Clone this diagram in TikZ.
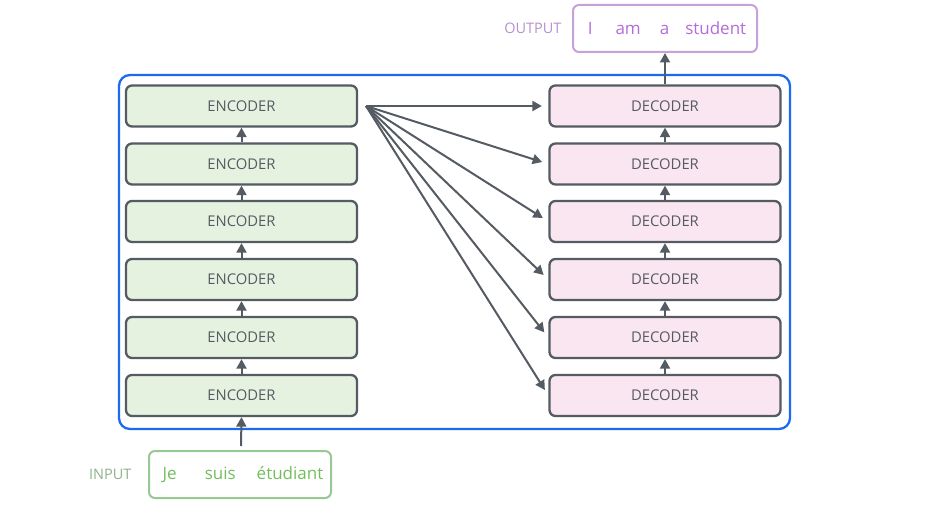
\documentclass[tikz,border=0pt]{standalone}
\usepackage{fontspec}
\setmainfont{Open Sans}
\usetikzlibrary{arrows.meta}
\definecolor{edge}{HTML}{555B62}
\definecolor{encfill}{HTML}{E6F2E0}
\definecolor{decfill}{HTML}{FAE6F0}
\definecolor{frame}{HTML}{1A6AF2}
\definecolor{outline}{HTML}{C6A2D6}
\definecolor{outtext}{HTML}{B46CD6}
\definecolor{outlabel}{HTML}{B792CC}
\definecolor{inline}{HTML}{97C993}
\definecolor{intext}{HTML}{72BE5C}
\definecolor{inlabel}{HTML}{8DB38A}
\begin{document}
\begin{tikzpicture}[x=1pt,y=-1pt,
  box/.style={draw=edge,line width=2.3pt,rounded corners=6pt,minimum width=231pt,minimum height=41pt,inner sep=0pt,font=\fontsize{14.8}{17}\selectfont,text=edge},
  enc/.style={box,fill=encfill},
  dec/.style={box,fill=decfill},
  conn/.style={draw=edge,line width=2pt,-{Triangle[length=9.5pt,width=10pt]}},
  wordbox/.style={line width=2pt,rounded corners=6pt,inner sep=0pt,font=\fontsize{17}{20}\selectfont},
  tag/.style={font=\fontsize{14.5}{17}\selectfont,anchor=east}
]
\useasboundingbox (0,0) rectangle (931,508);
\draw[frame,line width=2.3pt,rounded corners=11pt] (119,75) rectangle (790,429);
\foreach \i/\y in {1/395.5,2/337.5,3/279.5,4/221.5,5/164,6/106}{
  \node[enc] (e\i) at (241.5,\y) {ENCODER};
  \node[dec] (d\i) at (665,\y) {DECODER};
}
\foreach \i/\j in {1/2,2/3,3/4,4/5,5/6}{
  \draw[conn] (e\i.north) -- (e\j.south);
  \draw[conn] (d\i.north) -- (d\j.south);
}
\coordinate (fan) at (366,106);
\foreach \i in {1,...,6}{
  \draw[conn,shorten >=6.5pt] (fan) -- (d\i.west);
}
\node[wordbox,draw=outline,minimum width=184pt,minimum height=47pt,text=outtext] (out) at (665,28.5)
  {\hspace*{4pt}I\hspace{23pt}am\hspace{19pt}a\hspace{16pt}student};
\node[tag,text=outlabel] (outl) at (565,28) {OUTPUT};
\draw[conn] (d6.north) -- (out.south);
\node[wordbox,draw=inline,minimum width=182pt,minimum height=47pt,text=intext] (in) at (240,474.5)
  {\hspace*{6pt}Je\hspace{28pt}suis\hspace{21pt}étudiant};
\node[tag,text=inlabel] (inl) at (135,474) {INPUT};
\coordinate (inarrow) at (241,446);
\draw[conn] (inarrow) -- (e1.south);
\end{tikzpicture}
\end{document}
